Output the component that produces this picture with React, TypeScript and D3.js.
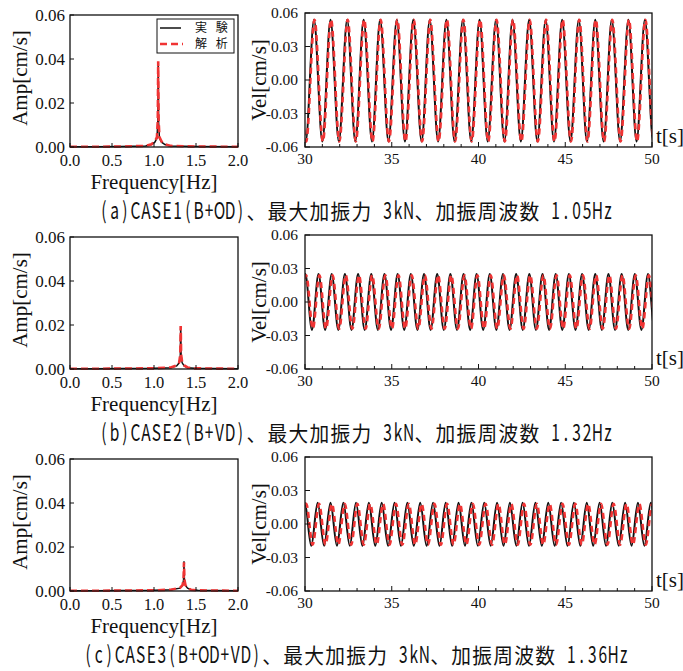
import React from "react";
import * as d3 from "d3";

const W = 683;
const H = 671;

// ---------- data ----------
const captions = [
  "(a)CASE1(B+OD)、最大加振力 3kN、加振周波数 1.05Hz",
  "(b)CASE2(B+VD)、最大加振力 3kN、加振周波数 1.32Hz",
  "(c)CASE3(B+OD+VD)、最大加振力 3kN、加振周波数 1.36Hz",
];
const legendLabels = ["実 験", "解 析"];

const freqTicks = [0, 0.5, 1.0, 1.5, 2.0];
const ampTicks = [0, 0.02, 0.04, 0.06];
const timeMajorTicks = [30, 35, 40, 45, 50];
const velTicks = [-0.06, -0.03, 0, 0.03, 0.06];

// spectra (frequency [Hz], amplitude [cm/s])
const freqA = [0, 0.3, 0.6, 0.9, 0.97, 1.01, 1.035, 1.045, 1.05, 1.055, 1.065, 1.09, 1.13, 1.2, 1.5, 2.0];
const ampExpA = [0.0001, 0.0001, 0.0002, 0.0005, 0.0011, 0.0022, 0.004, 0.011, 0.0385, 0.011, 0.004, 0.0022, 0.0011, 0.0005, 0.0002, 0.0001];
const ampAnaA = [0.0001, 0.0001, 0.0002, 0.0005, 0.0012, 0.0025, 0.0045, 0.012, 0.039, 0.012, 0.0045, 0.0025, 0.0012, 0.0005, 0.0002, 0.0001];

const freqB = [0, 0.3, 0.6, 1.0, 1.2, 1.27, 1.3, 1.313, 1.318, 1.323, 1.335, 1.36, 1.4, 1.48, 1.7, 2.0];
const ampExpB = [0.0001, 0.0001, 0.0002, 0.0003, 0.0006, 0.0014, 0.0028, 0.006, 0.0195, 0.006, 0.0028, 0.0014, 0.0006, 0.0003, 0.0002, 0.0001];
const ampAnaB = [0.0001, 0.0001, 0.0002, 0.0003, 0.0007, 0.0016, 0.003, 0.0065, 0.0195, 0.0065, 0.003, 0.0016, 0.0007, 0.0003, 0.0002, 0.0001];

const freqC = [0, 0.3, 0.6, 1.0, 1.2, 1.31, 1.34, 1.352, 1.357, 1.362, 1.374, 1.4, 1.44, 1.52, 1.7, 2.0];
const ampExpC = [0.0001, 0.0001, 0.0002, 0.0003, 0.0006, 0.0013, 0.0025, 0.005, 0.0135, 0.005, 0.0025, 0.0013, 0.0006, 0.0003, 0.0002, 0.0001];
const ampAnaC = [0.0001, 0.0001, 0.0002, 0.0003, 0.0006, 0.0014, 0.0027, 0.0052, 0.013, 0.0052, 0.0027, 0.0014, 0.0006, 0.0003, 0.0002, 0.0001];

// velocity time histories: times of crests / troughs [s] and their values [cm/s]
const expPeaksA = [29.57, 30.52, 31.47, 32.43, 33.38, 34.33, 35.29, 36.24, 37.19, 38.15, 39.10, 40.06, 41.01, 41.96, 42.92, 43.87, 44.82, 45.78, 46.73, 47.68, 48.64, 49.59, 50.54];
const expTroughsA = [30.04, 31.00, 31.95, 32.90, 33.86, 34.81, 35.76, 36.72, 37.67, 38.62, 39.58, 40.53, 41.49, 42.44, 43.39, 44.35, 45.30, 46.25, 47.21, 48.16, 49.11, 50.07];
const anaPeaksA = [29.60, 30.55, 31.50, 32.46, 33.41, 34.36, 35.32, 36.27, 37.22, 38.18, 39.13, 40.09, 41.04, 41.99, 42.95, 43.90, 44.85, 45.81, 46.76, 47.71, 48.67, 49.62, 50.57];
const anaTroughsA = [30.07, 31.03, 31.98, 32.93, 33.89, 34.84, 35.79, 36.75, 37.70, 38.65, 39.61, 40.56, 41.52, 42.47, 43.42, 44.38, 45.33, 46.28, 47.24, 48.19, 49.14, 50.10];
const expCrestA = [0.054, -0.055];
const anaCrestA = [0.054, -0.055];

const expPeaksB = [30.02, 30.78, 31.54, 32.30, 33.06, 33.82, 34.58, 35.34, 36.10, 36.86, 37.62, 38.38, 39.14, 39.89, 40.65, 41.41, 42.17, 42.93, 43.69, 44.45, 45.21, 45.97, 46.73, 47.49, 48.25, 49.01, 49.77, 50.53];
const expTroughsB = [29.64, 30.40, 31.16, 31.92, 32.68, 33.44, 34.20, 34.96, 35.72, 36.48, 37.24, 38.00, 38.76, 39.52, 40.27, 41.03, 41.79, 42.55, 43.31, 44.07, 44.83, 45.59, 46.35, 47.11, 47.87, 48.63, 49.39, 50.15];
const anaPeaksB = [30.07, 30.83, 31.59, 32.35, 33.11, 33.87, 34.63, 35.39, 36.15, 36.91, 37.67, 38.43, 39.19, 39.94, 40.70, 41.46, 42.22, 42.98, 43.74, 44.50, 45.26, 46.02, 46.78, 47.54, 48.30, 49.06, 49.82, 50.58];
const anaTroughsB = [29.69, 30.45, 31.21, 31.97, 32.73, 33.49, 34.25, 35.01, 35.77, 36.53, 37.29, 38.05, 38.81, 39.57, 40.32, 41.08, 41.84, 42.60, 43.36, 44.12, 44.88, 45.64, 46.40, 47.16, 47.92, 48.68, 49.44, 50.20];
const expCrestB = [0.025, -0.025];
const anaCrestB = [0.024, -0.024];

const expPeaksC = [29.99, 30.73, 31.47, 32.21, 32.94, 33.68, 34.42, 35.16, 35.90, 36.64, 37.38, 38.11, 38.85, 39.59, 40.33, 41.07, 41.81, 42.54, 43.28, 44.02, 44.76, 45.50, 46.24, 46.98, 47.71, 48.45, 49.19, 49.93, 50.67];
const expTroughsC = [29.62, 30.36, 31.10, 31.84, 32.58, 33.31, 34.05, 34.79, 35.53, 36.27, 37.01, 37.75, 38.48, 39.22, 39.96, 40.70, 41.44, 42.18, 42.91, 43.65, 44.39, 45.13, 45.87, 46.61, 47.35, 48.08, 48.82, 49.56, 50.30];
const anaPeaksC = [30.07, 30.81, 31.55, 32.29, 33.02, 33.76, 34.50, 35.24, 35.98, 36.72, 37.46, 38.19, 38.93, 39.67, 40.41, 41.15, 41.89, 42.62, 43.36, 44.10, 44.84, 45.58, 46.32, 47.06, 47.79, 48.53, 49.27, 50.01, 50.75];
const anaTroughsC = [29.70, 30.44, 31.18, 31.92, 32.66, 33.39, 34.13, 34.87, 35.61, 36.35, 37.09, 37.83, 38.56, 39.30, 40.04, 40.78, 41.52, 42.26, 42.99, 43.73, 44.47, 45.21, 45.95, 46.69, 47.43, 48.16, 48.90, 49.64, 50.38];
const expCrestC = [0.019, -0.0195];
const anaCrestC = [0.018, -0.0185];

// ---------- styling ----------
const RED = "#f03434";
const SERIF = "Liberation Serif, DejaVu Serif, Times New Roman, serif";
const CJK = "Noto Sans CJK JP, sans-serif";
const PANEL_STEP = 222;

const serif = (fs: number) => ({ fontFamily: SERIF, fontSize: fs + "px" });
const cjk = (fs: number) => ({ fontFamily: CJK, fontSize: fs + "px" });

type Panel = {
  freq: number[];
  ampExp: number[];
  ampAna: number[];
  exp: [number[], number[], number[]];
  ana: [number[], number[], number[]];
};

const panels: Panel[] = [
  { freq: freqA, ampExp: ampExpA, ampAna: ampAnaA, exp: [expPeaksA, expTroughsA, expCrestA], ana: [anaPeaksA, anaTroughsA, anaCrestA] },
  { freq: freqB, ampExp: ampExpB, ampAna: ampAnaB, exp: [expPeaksB, expTroughsB, expCrestB], ana: [anaPeaksB, anaTroughsB, anaCrestB] },
  { freq: freqC, ampExp: ampExpC, ampAna: ampAnaC, exp: [expPeaksC, expTroughsC, expCrestC], ana: [anaPeaksC, anaTroughsC, anaCrestC] },
];

function extrema(peaks: number[], troughs: number[], crest: number[]): [number, number][] {
  const pts: [number, number][] = [
    ...peaks.map((t) => [t, crest[0]] as [number, number]),
    ...troughs.map((t) => [t, crest[1]] as [number, number]),
  ];
  return pts.sort((a, b) => a[0] - b[0]);
}

// caption laid out in a Japanese-gothic style grid: ASCII characters take half-width cells
function Caption({ text, cx, y, fs }: { text: string; cx: number; y: number; fs: number }) {
  const chars = Array.from(text);
  const widths = chars.map((c) => (c.charCodeAt(0) < 128 ? 0.5 * fs : fs));
  const total = d3.sum(widths);
  let x = cx - total / 2;
  const els: React.ReactNode[] = [];
  chars.forEach((c, i) => {
    const w = widths[i];
    if (c !== " ") {
      const ascii = c.charCodeAt(0) < 128;
      els.push(
        <text
          key={i}
          transform={`translate(${x + w / 2},${y}) scale(${ascii ? "0.74,1.1" : "0.94,1"})`}
          textAnchor="middle"
          style={cjk(fs)}
        >
          {c}
        </text>
      );
    }
    x += w;
  });
  return <g fill="#111">{els}</g>;
}

function FreqPlot({ p, off, legend }: { p: Panel; off: number; legend: boolean }) {
  const x0 = 70, x1 = 238, y0 = 15 + off, y1 = 147 + off;
  const x = d3.scaleLinear().domain([0, 2]).range([x0, x1]);
  const y = d3.scaleLinear().domain([0, 0.06]).range([y1, y0]);
  const line = d3
    .line<number>()
    .x((_, i) => x(p.freq[i]))
    .y((d) => y(d));
  return (
    <g>
      <path d={line(p.ampExp) || ""} fill="none" stroke="#111" strokeWidth={1.5} />
      <path d={line(p.ampAna) || ""} fill="none" stroke={RED} strokeWidth={2.6} strokeDasharray="7 4" />
      <rect x={x0} y={y0} width={x1 - x0} height={y1 - y0} fill="none" stroke="#111" strokeWidth={1.3} />
      {freqTicks.map((t) => (
        <g key={"fx" + t}>
          <line x1={x(t)} x2={x(t)} y1={y1} y2={y1 - 4} stroke="#111" strokeWidth={1} />
          <text x={x(t)} y={y1 + 19} textAnchor="middle" style={serif(16.5)} fill="#111">
            {t.toFixed(1)}
          </text>
        </g>
      ))}
      {ampTicks.map((t) => (
        <g key={"fy" + t}>
          <line x1={x0} x2={x0 + 4} y1={y(t)} y2={y(t)} stroke="#111" strokeWidth={1} />
          <text x={65} y={y(t)} dy="0.35em" textAnchor="end" style={serif(17)} fill="#111">
            {t.toFixed(2)}
          </text>
        </g>
      ))}
      <text x={(x0 + x1) / 2} y={y1 + 42} textAnchor="middle" style={serif(21)} fill="#111">
        Frequency[Hz]
      </text>
      <text transform={`translate(27,${(y0 + y1) / 2 - 3}) rotate(-90)`} textAnchor="middle" style={serif(21)} fill="#111">
        Amp[cm/s]
      </text>
      {legend && (
        <g>
          <rect x={157} y={y0 + 4} width={77} height={34} fill="#fff" stroke="#111" strokeWidth={1} />
          <line x1={160} x2={181} y1={y0 + 13} y2={y0 + 13} stroke="#111" strokeWidth={1.5} />
          <line x1={160} x2={183} y1={y0 + 29} y2={y0 + 29} stroke={RED} strokeWidth={2.6} strokeDasharray="7 4" />
          <text x={195} y={y0 + 13} dy="0.36em" style={cjk(12)} fill="#111" letterSpacing={3}>
            {legendLabels[0]}
          </text>
          <text x={195} y={y0 + 29} dy="0.36em" style={cjk(12)} fill="#111" letterSpacing={3}>
            {legendLabels[1]}
          </text>
        </g>
      )}
    </g>
  );
}

function TimePlot({ p, off, idx }: { p: Panel; off: number; idx: number }) {
  const x0 = 305, x1 = 652, y0 = 13 + off, y1 = 147 + off;
  const x = d3.scaleLinear().domain([30, 50]).range([x0, x1]);
  const y = d3.scaleLinear().domain([-0.06, 0.06]).range([y1, y0]);
  const line = d3
    .line<[number, number]>()
    .x((d) => x(d[0]))
    .y((d) => y(d[1]))
    .curve(d3.curveMonotoneX);
  const expPts = extrema(p.exp[0], p.exp[1], p.exp[2]);
  const anaPts = extrema(p.ana[0], p.ana[1], p.ana[2]);
  const minor = x.ticks(20);
  const clipId = "clipT" + idx;
  return (
    <g>
      <defs>
        <clipPath id={clipId}>
          <rect x={x0} y={y0} width={x1 - x0} height={y1 - y0} />
        </clipPath>
      </defs>
      <g clipPath={`url(#${clipId})`}>
        <path d={line(expPts) || ""} fill="none" stroke="#111" strokeWidth={2} />
        <path d={line(anaPts) || ""} fill="none" stroke={RED} strokeWidth={2.6} strokeDasharray="6 4" />
      </g>
      <rect x={x0} y={y0} width={x1 - x0} height={y1 - y0} fill="none" stroke="#111" strokeWidth={1.3} />
      {minor.map((t) => (
        <line key={"m" + t} x1={x(t)} x2={x(t)} y1={y1} y2={y1 - (timeMajorTicks.includes(t) ? 5 : 3)} stroke="#111" strokeWidth={1} />
      ))}
      {timeMajorTicks.map((t) => (
        <text key={"tx" + t} x={x(t)} y={y1 + 17} textAnchor="middle" style={serif(15.5)} fill="#111">
          {t}
        </text>
      ))}
      {velTicks.map((t) => (
        <g key={"vy" + t}>
          <line x1={x0} x2={x0 + 5} y1={y(t)} y2={y(t)} stroke="#111" strokeWidth={1} />
          <text x={298} y={y(t)} dy="0.35em" textAnchor="end" style={serif(15.5)} fill="#111">
            {t.toFixed(2)}
          </text>
        </g>
      ))}
      <text transform={`translate(266,${(y0 + y1) / 2}) rotate(-90)`} textAnchor="middle" style={serif(21)} fill="#111">
        Vel[cm/s]
      </text>
      <text x={656} y={y1 - 4} style={serif(21)} fill="#111">
        t[s]
      </text>
    </g>
  );
}

export default function App() {
  return (
    <svg width={W} height={H} style={{ position: "absolute", left: 0, top: 0, background: "#fff" }}>
      <rect width={W} height={H} fill="#fff" />
      {panels.map((p, i) => {
        const off = i * PANEL_STEP;
        return (
          <g key={i}>
            <FreqPlot p={p} off={off} legend={i === 0} />
            <TimePlot p={p} off={off} idx={i} />
            <Caption text={captions[i]} cx={356} y={219 + off} fs={21} />
          </g>
        );
      })}
    </svg>
  );
}
